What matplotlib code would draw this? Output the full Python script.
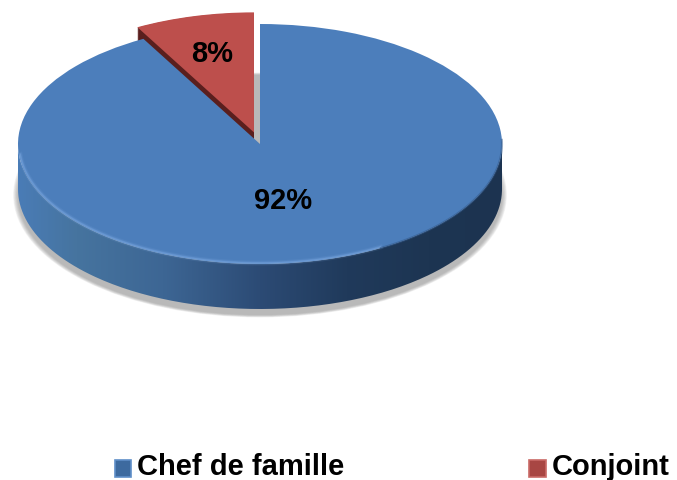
import matplotlib
matplotlib.use('Agg')
import matplotlib.pyplot as plt
import numpy as np
from matplotlib.colors import LinearSegmentedColormap
from matplotlib.patches import Ellipse, PathPatch
from matplotlib.path import Path

categories = ['Chef de famille', 'Conjoint']
values = [92, 8]
colors = ['#4c7ebb', '#bd4f4c']
explode = [0, 0.1]

plt.rcParams['font.family'] = ['Liberation Sans', 'DejaVu Sans']

# one data unit = one pie radius, x and y scaled apart to get the tilted ellipse
W, H = 677, 481
CX, CY, RX, RY = 260, 145, 242, 120
DEPTH = 45 / RY

fig = plt.figure(figsize=(W / 100, H / 100), dpi=100)
ax = fig.add_axes([0, 0, 1, 1])
xlim = (-CX / RX, (W - CX) / RX)
ylim = ((CY - H) / RY, CY / RY)

# soft shadow under the wall
for k in np.linspace(0.02, 0, 9):
    ax.add_patch(Ellipse((0, -DEPTH - 0.05), 2 * (1 + k), 2 * (1 + k),
                         fc='#8a8a8a', ec='none', alpha=0.09, zorder=1))

# outer wall, horizontal gradient clipped to the band below the top face
t = np.linspace(np.pi, 2 * np.pi, 200)
wall_x = np.r_[np.cos(t), np.cos(t[::-1])]
wall_y = np.r_[np.sin(t) - DEPTH, np.sin(t[::-1])]
wall = PathPatch(Path(np.c_[wall_x, wall_y]), fc='none', ec='none', transform=ax.transData)
ax.add_patch(wall)
wall_cmap = LinearSegmentedColormap.from_list('wall', [
    (0.0, '#4a7cb6'), (0.12, '#46749f'), (0.3, '#3d6694'), (0.5, '#2c4b75'),
    (0.68, '#203a5b'), (0.85, '#1d3552'), (1.0, '#1c3350')])
grad = ax.imshow(np.linspace(0, 1, 256).reshape(1, -1), cmap=wall_cmap, aspect='auto',
                 extent=(-1, 1, -1 - DEPTH, 0), zorder=2)
grad.set_clip_path(wall)

# shadow of the lifted slice seen through the gap
ax.pie(values, startangle=90, counterclock=False, explode=explode, center=(0, -DEPTH + 0.02),
       colors=['none', '#a6a6a6'], wedgeprops={'zorder': 2.2, 'lw': 0})

# cut face of the lifted slice
for d in np.linspace(DEPTH, 0.005, 45):
    ax.pie(values, startangle=90, counterclock=False, explode=explode, center=(0, -d),
           colors=['none', '#5a1f1e'], wedgeprops={'zorder': 2.4, 'lw': 0})

# top faces
wedges, _ = ax.pie(values, startangle=90, counterclock=False, explode=explode, colors=colors,
                   wedgeprops={'zorder': 3, 'lw': 0})
wedges[0].set_zorder(3.2)

# bevel highlight on the rim
rim = np.radians(np.linspace(185, 300, 120))
for w, a in [(3.5, 0.10), (2.0, 0.18), (1.0, 0.28)]:
    ax.plot(0.995 * np.cos(rim), 0.992 * np.sin(rim), color='#8db8ee', lw=w, alpha=a, zorder=3.4)
rim = np.radians(np.linspace(300, 362, 60))
ax.plot(np.cos(rim), np.sin(rim), color='#2f5688', lw=1.5, alpha=0.5, zorder=3.4)

# percent labels
for v, (x, y) in zip(values, [(0.095, -0.465), (-0.198, 0.76)]):
    ax.text(x, y, f'{v}%', ha='center', va='center', fontsize=21, fontweight='bold',
            color='black', zorder=5)

ax.set_xlim(xlim)
ax.set_ylim(ylim)
ax.set_aspect('auto')
ax.axis('off')

leg = fig.legend(wedges, categories, ncol=2, frameon=False, loc='lower left',
                 bbox_to_anchor=((113 - 4) / W, -0.012),
                 prop={'weight': 'bold', 'size': 21}, handlelength=0.55, handleheight=0.55,
                 handletextpad=0.2, columnspacing=6.36, borderpad=0.2, borderaxespad=0)
for h, c, e in zip(leg.legend_handles, ['#3d6a9f', '#a84643'], ['#5f8fc8', '#c96a66']):
    h.set_facecolor(c)
    h.set_edgecolor(e)
    h.set_linewidth(1.2)
    h.set_y(h.get_y() - 3.5)

fig.savefig('out.png', dpi=100)
